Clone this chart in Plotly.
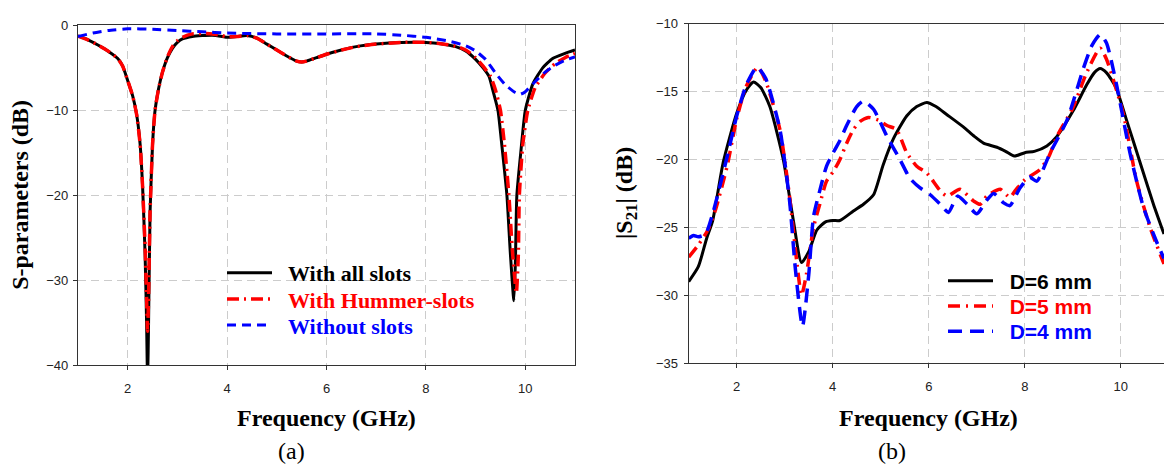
import plotly.graph_objects as go

# ---------------- (a) S-parameters ----------------
fa_all = [1.0, 1.2, 1.4, 1.6, 1.8, 1.9, 2.0, 2.1, 2.18, 2.25, 2.3, 2.35, 2.38, 2.4, 2.42, 2.45, 2.5, 2.55,
          2.62, 2.7, 2.8, 2.9, 3.0, 3.1, 3.3, 3.5, 3.7, 3.9, 4.0, 4.2, 4.4, 4.6, 4.8, 5.0, 5.2, 5.4, 5.5,
          5.6, 5.8, 6.0, 6.3, 6.6, 7.0, 7.5, 8.0, 8.3, 8.6, 8.8, 9.0, 9.15, 9.27, 9.35, 9.45, 9.53, 9.63,
          9.7, 9.77, 9.8, 9.83, 9.91, 10.0, 10.15, 10.35, 10.55, 10.8, 11.0]
sa_all = [-1.25, -1.7, -2.3, -3.0, -3.9, -4.8, -6.5, -8.3, -10.5, -14.0, -19.0, -27.0, -35.0, -42.0, -35.0,
          -22.0, -14.0, -10.0, -7.5, -5.5, -3.8, -2.7, -2.0, -1.6, -1.3, -1.2, -1.15, -1.3, -1.4, -1.3,
          -1.2, -1.5, -2.2, -2.9, -3.6, -4.2, -4.3, -4.2, -3.8, -3.4, -2.9, -2.5, -2.2, -2.0, -2.0, -2.15,
          -2.5, -3.0, -4.0, -5.0, -6.0, -7.7, -10.0, -14.2, -20.0, -26.9, -32.4, -28.0, -20.0, -14.9,
          -10.0, -6.9, -5.0, -3.9, -3.3, -2.9]

fa_hum = [1.0, 1.2, 1.4, 1.6, 1.8, 1.9, 2.0, 2.1, 2.18, 2.25, 2.3, 2.35, 2.38, 2.4, 2.42, 2.45, 2.5, 2.55,
          2.62, 2.7, 2.8, 2.9, 3.0, 3.1, 3.3, 3.5, 3.7, 3.9, 4.0, 4.2, 4.4, 4.6, 4.8, 5.0, 5.2, 5.4, 5.5,
          5.6, 5.8, 6.0, 6.3, 6.6, 7.0, 7.5, 8.0, 8.3, 8.6, 8.8, 9.0, 9.15, 9.3, 9.4, 9.5, 9.58, 9.67,
          9.74, 9.82, 9.86, 9.88, 9.95, 10.05, 10.2, 10.4, 10.6, 10.8, 11.0]
sa_hum = [-1.25, -1.7, -2.3, -3.0, -3.9, -4.8, -6.5, -8.3, -10.5, -14.0, -19.0, -26.0, -32.0, -36.0, -32.0,
          -22.0, -14.0, -10.0, -7.5, -5.5, -3.7, -2.5, -1.8, -1.4, -1.0, -0.95, -1.0, -1.2, -1.35, -1.3,
          -1.2, -1.5, -2.2, -2.9, -3.6, -4.2, -4.3, -4.2, -3.8, -3.4, -2.9, -2.5, -2.2, -2.0, -2.0, -2.15,
          -2.45, -2.9, -3.8, -4.8, -6.0, -7.6, -10.0, -14.0, -20.0, -26.5, -31.5, -27.0, -20.0, -14.0,
          -10.0, -7.3, -5.6, -4.5, -3.8, -3.3]

fa_none = [1.0, 1.3, 1.6, 2.0, 2.5, 3.0, 3.5, 4.0, 5.0, 6.0, 7.0, 7.5, 8.0, 8.5, 8.8, 9.0, 9.2, 9.4, 9.6,
           9.8, 9.9, 10.0, 10.2, 10.4, 10.6, 10.8, 11.0]
sa_none = [-1.3, -0.9, -0.6, -0.4, -0.45, -0.6, -0.75, -0.9, -1.0, -1.0, -1.0, -1.15, -1.4, -1.9, -2.4,
           -3.0, -4.0, -5.6, -7.0, -7.9, -8.1, -7.8, -6.6, -5.5, -4.7, -4.1, -3.7]

# ---------------- (b) |S21| ----------------
fb_d6 = [1.0, 1.2, 1.375, 1.5, 1.72, 2.0, 2.2, 2.35, 2.5, 2.69, 2.97, 3.18, 3.35, 3.5, 3.67, 3.85, 4.0,
         4.15, 4.43, 4.64, 4.85, 5.05, 5.26, 5.54, 5.75, 5.96, 6.15, 6.38, 6.72, 6.95, 7.14, 7.42, 7.6,
         7.78, 8.0, 8.2, 8.46, 8.67, 9.01, 9.29, 9.45, 9.57, 9.7, 9.9, 10.12, 10.4, 10.68, 10.9]
sb_d6 = [-29.0, -27.9, -25.8, -24.5, -20.2, -16.6, -14.9, -14.3, -14.7, -16.1, -20.0, -24.5, -27.6, -26.8,
         -25.2, -24.6, -24.5, -24.5, -23.8, -23.3, -22.6, -20.4, -18.5, -16.8, -16.1, -15.8, -16.1, -16.7,
         -17.6, -18.3, -18.8, -19.1, -19.4, -19.75, -19.5, -19.4, -19.0, -18.3, -16.4, -14.5, -13.6,
         -13.3, -13.6, -14.7, -17.1, -20.2, -23.3, -25.5]

fb_d5 = [1.0, 1.2, 1.4, 1.55, 1.8, 2.0, 2.2, 2.44, 2.6, 2.9, 3.11, 3.25, 3.35, 3.45, 3.6, 3.73, 3.87, 4.01,
         4.15, 4.29, 4.43, 4.57, 4.74, 4.95, 5.13, 5.33, 5.54, 5.75, 5.96, 6.24, 6.38, 6.65, 6.93, 7.07,
         7.21, 7.49, 7.69, 7.8, 8.0, 8.3, 8.5, 8.67, 9.0, 9.29, 9.57, 9.7, 10.05, 10.33, 10.61, 10.9]
sb_d5 = [-27.2, -26.3, -25.2, -23.8, -20.5, -17.0, -14.6, -13.2, -14.2, -17.8, -23.0, -27.5, -30.0, -28.5,
         -25.0, -23.3, -21.6, -20.9, -20.0, -18.8, -17.8, -17.2, -16.9, -17.1, -17.5, -17.8, -19.5, -20.5,
         -21.0, -22.3, -22.7, -22.2, -23.05, -23.3, -22.7, -22.2, -22.8, -22.3, -21.5, -20.8, -19.8,
         -18.3, -16.2, -13.6, -11.8, -12.6, -16.6, -21.6, -25.0, -27.7]

fb_d4 = [1.0, 1.1, 1.2, 1.35, 1.5, 1.8, 2.0, 2.2, 2.42, 2.6, 2.9, 3.1, 3.22, 3.37, 3.5, 3.6, 3.73, 3.87,
         4.01, 4.15, 4.29, 4.5, 4.64, 4.85, 5.13, 5.4, 5.61, 5.82, 6.03, 6.24, 6.41, 6.6, 6.8, 7.0, 7.21,
         7.35, 7.56, 7.69, 7.9, 8.1, 8.25, 8.53, 8.88, 9.22, 9.4, 9.57, 9.7, 9.9, 10.19, 10.47, 10.75, 10.9]
sb_d4 = [-25.8, -25.6, -25.7, -25.5, -24.0, -19.8, -16.8, -14.5, -13.2, -14.0, -17.8, -23.0, -28.0, -32.3,
         -28.5, -24.2, -22.3, -20.5, -19.5, -18.6, -17.5, -16.1, -15.7, -16.3, -18.3, -20.0, -21.4, -22.1,
         -22.6, -23.3, -23.9, -22.7, -23.3, -24.0, -23.0, -22.5, -23.2, -23.4, -22.1, -21.3, -21.6, -19.5,
         -17.1, -13.3, -11.6, -10.8, -11.4, -14.3, -19.5, -23.5, -26.1, -27.3]

xticks = [2, 4, 6, 8, 10]
yticks_a = [0, -10, -20, -30, -40]
yticks_b = [-10, -15, -20, -25, -30, -35]

W, H = 1164, 473
SERIF = "Liberation Serif, Times New Roman, serif"
SANS = "Liberation Sans, Arial, sans-serif"
NB = "\u00a0\u00a0"


def px_x(p):
    return p / W


def px_y(p):
    return 1 - p / H


fig = go.Figure()

fig.add_trace(go.Scatter(x=fa_all, y=sa_all, mode="lines", legend="legend", showlegend=True,
                         name=NB + "<span style='color:#000000'><b>With all slots</b></span>",
                         line=dict(color="black", width=3, shape="spline", smoothing=0.5)))
fig.add_trace(go.Scatter(x=fa_hum, y=sa_hum, mode="lines", legend="legend2", showlegend=True,
                         name=NB + "<span style='color:#ff0000'><b>With Hummer-slots</b></span>",
                         line=dict(color="#ff0000", width=3.5, dash="12px,5px,2px,5px", shape="spline", smoothing=0.5)))
fig.add_trace(go.Scatter(x=fa_none, y=sa_none, mode="lines", legend="legend3", showlegend=True,
                         name=NB + "<span style='color:#0000ff'><b>Without slots</b></span>",
                         line=dict(color="#0000ff", width=3, dash="9px,6px", shape="spline", smoothing=0.5)))

fig.add_trace(go.Scatter(x=fb_d6, y=sb_d6, mode="lines", xaxis="x2", yaxis="y2", legend="legend4", showlegend=True,
                         name=NB + "<span style='color:#000000'><b>D=6 mm</b></span>",
                         line=dict(color="black", width=3, shape="spline", smoothing=0.6)))
fig.add_trace(go.Scatter(x=fb_d5, y=sb_d5, mode="lines", xaxis="x2", yaxis="y2", legend="legend5", showlegend=True,
                         name=NB + "<span style='color:#ff0000'><b>D=5 mm</b></span>",
                         line=dict(color="#ff0000", width=3.5, dash="12px,6px,2px,6px", shape="spline", smoothing=0.6)))
fig.add_trace(go.Scatter(x=fb_d4, y=sb_d4, mode="lines", xaxis="x2", yaxis="y2", legend="legend6", showlegend=True,
                         name=NB + "<span style='color:#0000ff'><b>D=4 mm</b></span>",
                         line=dict(color="#0000ff", width=3.5, dash="14px,8px", shape="spline", smoothing=0.6)))

axis_common = dict(showgrid=True, gridcolor="#cccccc", griddash="8px,5px", gridwidth=1,
                   showline=True, linecolor="#333333", linewidth=1.3,
                   ticks="outside", ticklen=4, tickcolor="#333333", tickwidth=1,
                   tickfont=dict(family=SANS, size=13, color="#222222"), zeroline=False)


def leg(left, center, family, size):
    return dict(x=px_x(left), y=px_y(center - 20), xanchor="left", yanchor="top",
                bgcolor="rgba(0,0,0,0)", borderwidth=0, itemwidth=45,
                font=dict(family=family, size=size, color="black"))


fig.update_layout(
    width=W, height=H,
    margin=dict(l=0, r=0, t=0, b=0),
    paper_bgcolor="white", plot_bgcolor="white",
    showlegend=True,
    xaxis=dict(domain=[px_x(78), px_x(575)], range=[1, 11], tickvals=xticks, anchor="y", mirror=True,
               ticklabelstandoff=7, **axis_common),
    yaxis=dict(domain=[px_y(370), px_y(19)], range=[-40, 0], tickvals=yticks_a, anchor="x", mirror=True,
               ticklabelstandoff=2, **axis_common),
    xaxis2=dict(domain=[px_x(688.7), 1.0], range=[1, 10.9], tickvals=xticks, anchor="y2", mirror=True,
                ticklabelstandoff=7, **axis_common),
    yaxis2=dict(domain=[px_y(367.7), px_y(17.3)], range=[-35, -10], tickvals=yticks_b, anchor="x2", mirror=False,
                ticklabelstandoff=3, **axis_common),
    legend=leg(222, 273, SERIF, 22),
    legend2=leg(222, 300, SERIF, 22),
    legend3=leg(222, 327, SERIF, 22),
    legend4=leg(943, 282, SANS, 21),
    legend5=leg(943, 308, SANS, 21),
    legend6=leg(943, 334, SANS, 21),
    annotations=[
        dict(text="<b>Frequency (GHz)</b>", x=px_x(326), y=px_y(424), xref="paper", yref="paper",
             showarrow=False, xanchor="center", yanchor="middle", font=dict(family=SERIF, size=24, color="black")),
        dict(text="(a)", x=px_x(291), y=px_y(459), xref="paper", yref="paper",
             showarrow=False, xanchor="center", yanchor="middle", font=dict(family=SERIF, size=24, color="black")),
        dict(text="<b>Frequency (GHz)</b>", x=px_x(928), y=px_y(424), xref="paper", yref="paper",
             showarrow=False, xanchor="center", yanchor="middle", font=dict(family=SERIF, size=24, color="black")),
        dict(text="(b)", x=px_x(892), y=px_y(459), xref="paper", yref="paper",
             showarrow=False, xanchor="center", yanchor="middle", font=dict(family=SERIF, size=24, color="black")),
        dict(text="<b>S-parameters (dB)</b>", x=px_x(20), y=px_y(194), xref="paper", yref="paper", textangle=-90,
             showarrow=False, xanchor="center", yanchor="middle", font=dict(family=SERIF, size=24, color="black")),
        dict(text="<b>|S<sub>21</sub>| (dB)</b>", x=px_x(626), y=px_y(192), xref="paper", yref="paper", textangle=-90,
             showarrow=False, xanchor="center", yanchor="middle", font=dict(family=SERIF, size=24, color="black")),
    ],
)

fig.write_html("out.html")
